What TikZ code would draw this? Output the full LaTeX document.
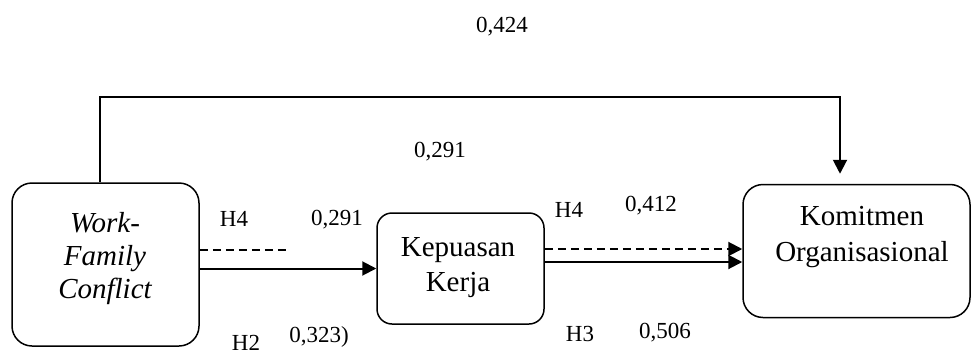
\documentclass[tikz,border=0pt]{standalone}
\usepackage{fontspec}
\setmainfont{Liberation Serif}
\usetikzlibrary{arrows.meta}
\begin{document}
\begin{tikzpicture}[x=1pt,y=-1pt,
  box/.style={draw, line width=1.5pt, rounded corners=20pt, inner sep=0pt},
  boxtext/.style={align=center, font=\fontsize{29}{36}\selectfont, inner sep=0pt},
  lbl/.style={font=\fontsize{23}{27}\selectfont, inner sep=0pt},
  conn/.style={line width=2pt},
  tip/.style={-{Triangle[length=14pt,width=14pt]}},
  dashline/.style={conn, dash pattern=on 8pt off 5pt}]
\useasboundingbox (0,0) rectangle (973,356);
% boxes
\node[box, minimum width=187pt, minimum height=163pt] (wfc) at (105.5,264.5) {};
\node[box, rounded corners=15pt, minimum width=167pt, minimum height=111pt] (kk) at (460.5,268.5) {};
\node[box, minimum width=227pt, minimum height=133pt] (ko) at (856.5,251) {};
% box texts
\node[boxtext, font=\itshape\fontsize{29}{33}\selectfont] (wfct) at (105,259) {Work-\\Family\\Conflict};
\node[boxtext, font=\fontsize{29}{35}\selectfont] (kkt) at (458,268) {Kepuasan\\Kerja};
\node[boxtext] (kot) at (862,237) {Komitmen\\Organisasional};
% connectors
\coordinate (tl) at (100,97);
\coordinate (tr) at (840,97);
\path (ko.north -| tr) ++(0,-10) coordinate (koin);
\draw[conn, tip] (wfc.north -| tl) -- (tl) -- (tr) -- (koin);
\coordinate (dend) at (290,250);
\draw[dashline] (dend -| wfc.east) -- (dend);
\draw[conn, tip] (kk.west -| wfc.east) -- (kk.west);
\draw[dashline, tip] ([yshift=19.5pt]kk.east) -- ([yshift=2pt]ko.west);
\draw[conn, tip] ([yshift=6.5pt]kk.east) -- ([yshift=-11pt]ko.west);
% labels
\node[lbl] (l1) at (502,27) {0,424};
\node[lbl] (l2) at (440,152) {0,291};
\node[lbl] (l3) at (234,219) {H4};
\node[lbl] (l4) at (337,220) {0,291};
\node[lbl] (l5) at (246,343) {H2};
\node[lbl] (l6) at (319,337) {0,323)};
\node[lbl] (l7) at (569,210) {H4};
\node[lbl] (l8) at (651,206) {0,412};
\node[lbl] (l9) at (580,334) {H3};
\node[lbl] (l10) at (665,333) {0,506};
\end{tikzpicture}
\end{document}
